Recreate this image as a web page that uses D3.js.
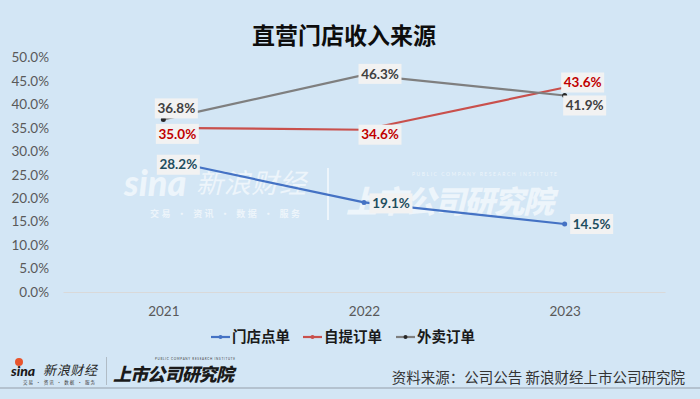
<!DOCTYPE html>
<html>
    <head>
        <meta charset="utf-8">
        <title>直营门店收入来源</title>
        <style>
            html, body { margin: 0; padding: 0; background: #d3e6f5; }
            svg { display: block; }
        </style>
    </head>
    <body>
        <script src="https://cdnjs.cloudflare.com/ajax/libs/d3/7.8.5/d3.min.js" charset="utf-8"></script>
        <script>

        var w = 700;
        var h = 399;

        // data
        var years = ["2021", "2022", "2023"];
        var seriesNames = ["门店点单", "自提订单", "外卖订单"];
        var storeOrder = [0.282, 0.191, 0.145];
        var pickupOrder = [0.350, 0.346, 0.436];
        var deliveryOrder = [0.368, 0.463, 0.419];
        var yTicks = [0, 0.05, 0.10, 0.15, 0.20, 0.25, 0.30, 0.35, 0.40, 0.45, 0.50];

        var series = [
            { name: seriesNames[0], values: storeOrder, color: "#4472c4", dot: "#4472c4", text: "#1f4e5f" },
            { name: seriesNames[1], values: pickupOrder, color: "#c9504c", dot: "#c9504c", text: "#c00000" },
            { name: seriesNames[2], values: deliveryOrder, color: "#7f7f7f", dot: "#262626", text: "#404040" }
        ];

        // where each data label box sits, relative to its point (dx, dy of box centre)
        var labelOffsets = [
            [[15, 5], [27, 1], [27, 0]],
            [[14, 6], [16, 5], [18, -5]],
            [[13, -11], [16, -1], [20, 10]]
        ];

        var svg = d3.select("body")
                    .append("svg")
                    .attr("width", w)
                    .attr("height", h);

        svg.append("rect")
            .attr("width", w)
            .attr("height", h)
            .attr("fill", "#d3e6f5");

        var xScale = d3.scalePoint()
                       .domain(years)
                       .range([63, 665])
                       .padding(0.5);

        var yScale = d3.scaleLinear()
                       .domain([0, 0.5])
                       .range([292, 57.5]);

        //watermark
        var wm = svg.append("g")
            .attr("fill", "#ffffff")
            .attr("opacity", 0.6);
        wm.append("text")
            .attr("x", 124).attr("y", 196)
            .attr("font-family", "Lato, sans-serif")
            .attr("font-weight", "900")
            .attr("font-style", "italic")
            .attr("font-size", "36px")
            .text("sina");
        wm.append("text")
            .attr("x", 196).attr("y", 193)
            .attr("font-family", "'Noto Sans CJK SC', sans-serif")
            .attr("font-style", "italic")
            .attr("font-size", "27px")
            .attr("textLength", 110)
            .text("新浪财经");
        wm.append("text")
            .attr("x", 150).attr("y", 217)
            .attr("font-family", "'Noto Sans CJK SC', sans-serif")
            .attr("font-weight", "bold")
            .attr("font-size", "9px")
            .attr("textLength", 150)
            .text("交易 · 资讯 · 数据 · 服务");
        wm.append("rect")
            .attr("x", 327).attr("y", 168)
            .attr("width", 2).attr("height", 52);
        wm.append("text")
            .attr("x", 346).attr("y", 213)
            .attr("font-family", "'Noto Sans CJK SC', sans-serif")
            .attr("font-weight", "900")
            .attr("font-style", "italic")
            .attr("font-size", "31px")
            .attr("textLength", 208)
            .text("上市公司研究院");
        wm.append("text")
            .attr("x", 412).attr("y", 176)
            .attr("font-family", "Lato, sans-serif")
            .attr("font-size", "5px")
            .attr("textLength", 145)
            .text("PUBLIC COMPANY RESEARCH INSTITUTE");

        //title
        svg.append("text")
            .attr("x", 344)
            .attr("y", 44)
            .attr("text-anchor", "middle")
            .attr("font-family", "'Noto Sans CJK SC', sans-serif")
            .attr("font-weight", "bold")
            .attr("font-size", "23px")
            .attr("fill", "#0d0d0d")
            .text("直营门店收入来源");

        //y axis
        var yAxis = d3.axisLeft(yScale)
            .tickValues(yTicks)
            .tickFormat(d3.format(".1%"))
            .tickSize(0)
            .tickPadding(0);

        var gy = svg.append("g")
            .attr("transform", "translate(49,0)")
            .call(yAxis);
        gy.select(".domain").remove();
        gy.selectAll("text")
            .attr("font-family", "Lato, sans-serif")
            .attr("font-size", "13.5px")
            .attr("fill", "#595959");

        //x axis
        var xAxis = d3.axisBottom(xScale)
            .tickSize(0)
            .tickPadding(14);

        var gx = svg.append("g")
            .attr("transform", "translate(0,292)")
            .call(xAxis);
        gx.select(".domain")
            .attr("stroke", "#d9d9d9")
            .attr("stroke-width", 1);
        gx.selectAll("text")
            .attr("font-family", "Lato, sans-serif")
            .attr("font-size", "13.5px")
            .attr("fill", "#595959");

        //lines
        var line = d3.line()
            .x(function(d, i) { return xScale(years[i]); })
            .y(function(d) { return yScale(d); });

        svg.selectAll("path.series")
            .data(series)
            .enter()
            .append("path")
            .attr("class", "series")
            .attr("d", function(d) { return line(d.values); })
            .attr("fill", "none")
            .attr("stroke", function(d) { return d.color; })
            .attr("stroke-width", 2.2);

        series.forEach(function(s) {
            svg.selectAll(null)
                .data(s.values)
                .enter()
                .append("circle")
                .attr("cx", function(d, i) { return xScale(years[i]); })
                .attr("cy", function(d) { return yScale(d); })
                .attr("r", 2.5)
                .attr("fill", s.dot);
        });

        //data labels
        series.forEach(function(s, si) {
            var lab = svg.selectAll(null)
                .data(s.values)
                .enter()
                .append("g")
                .attr("transform", function(d, i) {
                    var cx = xScale(years[i]) + labelOffsets[si][i][0];
                    var cy = yScale(d) + labelOffsets[si][i][1];
                    return "translate(" + cx + "," + cy + ")";
                });
            lab.append("rect")
                .attr("x", -21.5)
                .attr("y", -10)
                .attr("width", 43)
                .attr("height", 20)
                .attr("fill", "#f2f2f2");
            lab.append("text")
                .attr("text-anchor", "middle")
                .attr("dy", "0.35em")
                .attr("font-family", "Lato, sans-serif")
                .attr("font-weight", "bold")
                .attr("font-size", "13.5px")
                .attr("fill", s.text)
                .text(function(d) { return d3.format(".1%")(d); });
        });

        //legend
        var legendX = [211, 303, 396];
        var legend = svg.selectAll("g.legend")
            .data(series)
            .enter()
            .append("g")
            .attr("class", "legend")
            .attr("transform", function(d, i) { return "translate(" + legendX[i] + ",337)"; });
        legend.append("line")
            .attr("x1", 0).attr("x2", 19)
            .attr("stroke", function(d) { return d.color; })
            .attr("stroke-width", 2.2);
        legend.append("circle")
            .attr("cx", 9.5)
            .attr("r", 2)
            .attr("fill", function(d) { return d.dot; });
        legend.append("text")
            .attr("x", 21)
            .attr("dy", "0.36em")
            .attr("font-family", "'Noto Sans CJK SC', sans-serif")
            .attr("font-weight", "bold")
            .attr("font-size", "14.5px")
            .attr("fill", "#1a1a1a")
            .text(function(d) { return d.name; });

        //footer
        var foot = svg.append("g");
        foot.append("circle")
            .attr("cx", 19).attr("cy", 362)
            .attr("r", 4)
            .attr("fill", "#e8542c");
        foot.append("text")
            .attr("x", 11).attr("y", 376)
            .attr("font-family", "Lato, sans-serif")
            .attr("font-weight", "900")
            .attr("font-style", "italic")
            .attr("font-size", "14px")
            .attr("fill", "#1a1a1a")
            .text("sina");
        foot.append("text")
            .attr("x", 43).attr("y", 375)
            .attr("font-family", "'Noto Sans CJK SC', sans-serif")
            .attr("font-style", "italic")
            .attr("font-size", "13px")
            .attr("textLength", 54)
            .attr("fill", "#262626")
            .text("新浪财经");
        foot.append("text")
            .attr("x", 23).attr("y", 384)
            .attr("font-family", "'Noto Sans CJK SC', sans-serif")
            .attr("font-size", "4.5px")
            .attr("textLength", 72)
            .attr("fill", "#404040")
            .text("交易 · 资讯 · 数据 · 服务");
        foot.append("rect")
            .attr("x", 106).attr("y", 357)
            .attr("width", 1).attr("height", 28)
            .attr("fill", "#b0bcc6");
        foot.append("text")
            .attr("x", 113).attr("y", 381)
            .attr("font-family", "'Noto Sans CJK SC', sans-serif")
            .attr("font-weight", "900")
            .attr("font-style", "italic")
            .attr("font-size", "18px")
            .attr("textLength", 121)
            .attr("fill", "#1a1a1a")
            .text("上市公司研究院");
        foot.append("text")
            .attr("x", 155).attr("y", 360)
            .attr("font-family", "Lato, sans-serif")
            .attr("font-size", "3px")
            .attr("textLength", 80)
            .attr("fill", "#404040")
            .text("PUBLIC COMPANY RESEARCH INSTITUTE");
        foot.append("text")
            .attr("x", 685).attr("y", 383)
            .attr("text-anchor", "end")
            .attr("font-family", "'Noto Sans CJK SC', sans-serif")
            .attr("font-size", "14.5px")
            .attr("fill", "#333333")
            .text("资料来源：公司公告 新浪财经上市公司研究院");
        foot.append("rect")
            .attr("x", 0).attr("y", 387)
            .attr("width", w).attr("height", 2)
            .attr("fill", "#b4c2cf");

        </script>
    </body>
</html>
